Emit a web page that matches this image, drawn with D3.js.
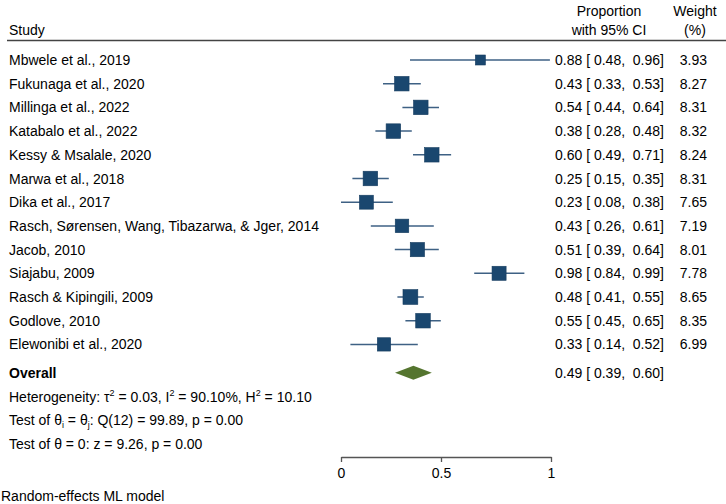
<!DOCTYPE html>
<html><head><meta charset="utf-8">
<script src="https://cdn.jsdelivr.net/npm/d3@7"></script>
<style>
html,body{margin:0;padding:0;background:#fff;}
svg{display:block;font-family:"Liberation Sans",Arial,sans-serif;}
text{white-space:pre;}
</style></head>
<body><svg id="c" width="726" height="504"></svg>
<script>
const studies = ["Mbwele et al., 2019","Fukunaga et al., 2020","Millinga et al., 2022","Katabalo et al., 2022","Kessy & Msalale, 2020","Marwa et al., 2018","Dika et al., 2017","Rasch, Sørensen, Wang, Tibazarwa, & Jger, 2014","Jacob, 2010","Siajabu, 2009","Rasch & Kipingili, 2009","Godlove, 2010","Elewonibi et al., 2020"];
// reported proportions with 95% CI
const proportion = [0.88,0.43,0.54,0.38,0.60,0.25,0.23,0.43,0.51,0.98,0.48,0.55,0.33];
const ciLow      = [0.48,0.33,0.44,0.28,0.49,0.15,0.08,0.26,0.39,0.84,0.41,0.45,0.14];
const ciHigh     = [0.96,0.53,0.64,0.48,0.71,0.35,0.38,0.61,0.64,0.99,0.55,0.65,0.52];
const weights    = [3.93,8.27,8.31,8.32,8.24,8.31,7.65,7.19,8.01,7.78,8.65,8.35,6.99];
// plotted positions on the axis
const plotEst  = [0.679,0.304,0.399,0.262,0.454,0.147,0.127,0.305,0.382,0.764,0.347,0.410,0.215];
const plotLow  = [0.345,0.210,0.307,0.172,0.360,0.057,0.000,0.149,0.269,0.651,0.282,0.322,0.047];
const plotHigh = [0.995,0.399,0.490,0.354,0.546,0.239,0.259,0.464,0.489,0.879,0.414,0.499,0.384];
const overall = {prop:0.49, low:0.39, high:0.60, plotEst:0.362, plotLow:0.270, plotHigh:0.454};
const axisTicks = [0, 0.5, 1];
const axisTickLabels = ["0","0.5","1"];

const svg = d3.select("#c");
const f2 = d3.format(".2f");
const x = d3.scaleLinear().domain([0,0.5,1]).range([341,441,551]);
const y = d3.scaleLinear().domain([0,12]).range([60,344.4]);
const side = d3.scaleSqrt().domain([0,8.27]).range([0,14.5]);
const FS = 14;

// header
svg.append("text").attr("x",9).attr("y",35).attr("font-size",FS).text("Study");
svg.append("text").attr("x",609).attr("y",16).attr("font-size",FS).attr("text-anchor","middle").text("Proportion");
svg.append("text").attr("x",609).attr("y",35).attr("font-size",FS).attr("text-anchor","middle").text("with 95% CI");
svg.append("text").attr("x",695).attr("y",16).attr("font-size",FS).attr("text-anchor","middle").text("Weight");
svg.append("text").attr("x",695).attr("y",35).attr("font-size",FS).attr("text-anchor","middle").text("(%)");
svg.append("line").attr("x1",7).attr("x2",726).attr("y1",40.5).attr("y2",40.5).attr("stroke","#444").attr("stroke-width",1.4);

const rows = svg.append("g").selectAll("g").data(studies).join("g")
  .attr("transform",(d,i)=>`translate(0,${y(i)})`);
rows.append("text").attr("x",9).attr("y",5).attr("font-size",FS).text(d=>d);
rows.append("line")
  .attr("x1",(d,i)=>x(plotLow[i])).attr("x2",(d,i)=>x(plotHigh[i]))
  .attr("stroke","#3e6184").attr("stroke-width",1.5);
rows.append("rect")
  .attr("x",(d,i)=>x(plotEst[i])-side(weights[i])/2)
  .attr("y",(d,i)=>-side(weights[i])/2)
  .attr("width",(d,i)=>side(weights[i])).attr("height",(d,i)=>side(weights[i]))
  .attr("fill","#1a476f").attr("stroke","#163d60").attr("stroke-width",0.6);
rows.append("text").attr("x",555).attr("y",5).attr("font-size",FS)
  .text((d,i)=>`${f2(proportion[i])} [ ${f2(ciLow[i])},  ${f2(ciHigh[i])}]`);
rows.append("text").attr("x",707).attr("y",5).attr("font-size",FS).attr("text-anchor","end")
  .text((d,i)=>f2(weights[i]));

// overall
const yo = y(13.2);
svg.append("text").attr("x",9).attr("y",yo+5).attr("font-size",FS).attr("font-weight","bold").text("Overall");
svg.append("polygon")
  .attr("points",[[x(overall.plotLow),yo],[x(overall.plotEst),yo-7],[x(overall.plotHigh),yo],[x(overall.plotEst),yo+7]].map(p=>p.join(",")).join(" "))
  .attr("fill","#55752f");
svg.append("text").attr("x",555).attr("y",yo+5).attr("font-size",FS)
  .text(`${f2(overall.prop)} [ ${f2(overall.low)},  ${f2(overall.high)}]`);

// stats lines
const t1 = svg.append("text").attr("x",9).attr("y",y(14.2)+5).attr("font-size",FS);
t1.append("tspan").text("Heterogeneity: τ");
t1.append("tspan").attr("font-size",9).attr("dy",-6).text("2");
t1.append("tspan").attr("dy",6).text(" = 0.03, I");
t1.append("tspan").attr("font-size",9).attr("dy",-6).text("2");
t1.append("tspan").attr("dy",6).text(" = 90.10%, H");
t1.append("tspan").attr("font-size",9).attr("dy",-6).text("2");
t1.append("tspan").attr("dy",6).text(" = 10.10");

const t2 = svg.append("text").attr("x",9).attr("y",y(15.2)+5).attr("font-size",FS);
t2.append("tspan").text("Test of θ");
t2.append("tspan").attr("font-size",9).attr("dy",3).text("i");
t2.append("tspan").attr("dy",-3).text(" = θ");
t2.append("tspan").attr("font-size",9).attr("dy",3).text("j");
t2.append("tspan").attr("dy",-3).text(": Q(12) = 99.89, p = 0.00");

svg.append("text").attr("x",9).attr("y",y(16.2)+5).attr("font-size",FS).text("Test of θ = 0: z = 9.26, p = 0.00");

// axis
const ax = svg.append("g").attr("transform","translate(0,457)")
  .call(d3.axisBottom(x).tickValues(axisTicks).tickFormat((d,i)=>axisTickLabels[i]).tickSize(5).tickSizeOuter(0).tickPadding(6));
ax.select(".domain").attr("stroke","#555").attr("stroke-width",1.3);
ax.selectAll(".tick line").attr("stroke","#555").attr("stroke-width",1.3);
ax.selectAll(".tick text").attr("font-size",FS).attr("font-family","Liberation Sans, Arial, sans-serif").attr("fill","#000");

svg.append("text").attr("x",1).attr("y",501).attr("font-size",FS).text("Random-effects ML model");
</script></body></html>
